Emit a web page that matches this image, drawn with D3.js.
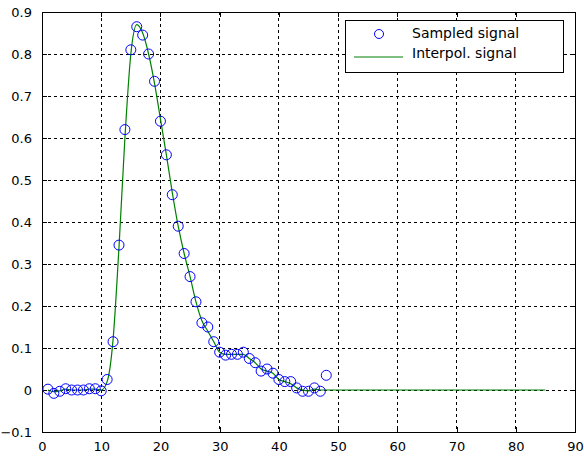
<!DOCTYPE html>
<meta charset="utf-8">
<script src="https://d3js.org/d3.v7.min.js"></script>
<style>
  body { margin: 0; background: #fff; }
  text { font-family: "DejaVu Sans", sans-serif; }
</style>
<div id="chart"></div>
<script>
// sampled signal (index 1..48)
const sampleY = [0.002, -0.008, -0.003, 0.003, 0.0, 0.0, 0.0, 0.003, 0.003, -0.002,
  0.025, 0.115, 0.345, 0.62, 0.81, 0.865, 0.845, 0.80, 0.735, 0.64,
  0.56, 0.465, 0.39, 0.325, 0.27, 0.21, 0.16, 0.15, 0.115, 0.09,
  0.083, 0.085, 0.085, 0.09, 0.075, 0.065, 0.045, 0.05, 0.04, 0.025,
  0.02, 0.02, 0.005, -0.003, -0.003, 0.005, -0.003, 0.035];
const sampleX = d3.range(1, sampleY.length + 1);

// interpolated signal
const interpX = [1, 2, 3, 4, 5, 6, 7, 8, 9, 10, 11, 12, 13, 14, 15, 16, 17, 18, 19, 20,
  21, 22, 23, 24, 25, 26, 27, 28, 29, 30, 31, 32, 33, 34, 35, 36, 37, 38, 39, 40,
  41, 42, 43, 44, 45, 46, 47, 48, 85];
const interpY = [0.0, -0.004, -0.002, 0.002, 0.0, 0.0, 0.0, 0.002, 0.002, 0.0,
  0.02, 0.12, 0.34, 0.60, 0.80, 0.87, 0.85, 0.80, 0.73, 0.645,
  0.56, 0.47, 0.39, 0.325, 0.27, 0.21, 0.165, 0.14, 0.115, 0.09,
  0.085, 0.085, 0.085, 0.085, 0.075, 0.065, 0.05, 0.045, 0.04, 0.025,
  0.02, 0.015, 0.005, 0.0, -0.002, 0.002, 0.0, 0.0, 0.0];

const xTicks = [0, 10, 20, 30, 40, 50, 60, 70, 80, 90];
const yTicks = [-0.1, 0, 0.1, 0.2, 0.3, 0.4, 0.5, 0.6, 0.7, 0.8, 0.9];
const legendLabels = ["Sampled signal", "Interpol. signal"];

const W = 584, H = 458;
const margin = {top: 12, right: 9, bottom: 26, left: 42};
const width = W - margin.left - margin.right,
      height = H - margin.top - margin.bottom;

const svg = d3.select("#chart").append("svg")
    .attr("width", W).attr("height", H);
const g = svg.append("g")
    .attr("transform", `translate(${margin.left},${margin.top})`);

const x = d3.scaleLinear().domain([0, 90]).range([0, width]);
const y = d3.scaleLinear().domain([-0.1, 0.9]).range([height, 0]);

// grid
g.append("g").selectAll("line")
  .data(xTicks.slice(1, -1)).join("line")
    .attr("x1", d => x(d)).attr("x2", d => x(d))
    .attr("y1", 0).attr("y2", height)
    .attr("stroke", "#000").attr("stroke-dasharray", "3,3")
    .attr("shape-rendering", "crispEdges");
g.append("g").selectAll("line")
  .data(yTicks.slice(1, -1)).join("line")
    .attr("y1", d => y(d)).attr("y2", d => y(d))
    .attr("x1", 0).attr("x2", width)
    .attr("stroke", "#000").attr("stroke-dasharray", "3,3")
    .attr("shape-rendering", "crispEdges");

// axes with inward ticks
const fmtY = d => d3.format("")(+d.toFixed(1));
const axB = g.append("g").attr("transform", `translate(0,${height})`)
  .call(d3.axisBottom(x).tickValues(xTicks).tickSize(-5).tickPadding(10));
const axL = g.append("g")
  .call(d3.axisLeft(y).tickValues(yTicks).tickSize(-5).tickPadding(10).tickFormat(fmtY));
const axT = g.append("g")
  .call(d3.axisTop(x).tickValues(xTicks).tickSize(-5).tickFormat(""));
const axR = g.append("g").attr("transform", `translate(${width},0)`)
  .call(d3.axisRight(y).tickValues(yTicks).tickSize(-5).tickFormat(""));
[axB, axL, axT, axR].forEach(a => {
  a.select(".domain").remove();
  a.selectAll("line").attr("shape-rendering", "crispEdges");
  a.selectAll("text").style("font-size", "13px").attr("fill", "#000");
});
g.append("rect").attr("width", width).attr("height", height)
  .attr("fill", "none").attr("stroke", "#000").attr("shape-rendering", "crispEdges");

// interpolated line
const lineData = interpX.map((d, i) => [d, interpY[i]]);
g.append("path")
  .datum(lineData)
  .attr("fill", "none").attr("stroke", "#008000").attr("stroke-width", 1.2)
  .attr("d", d3.line().x(d => x(d[0])).y(d => y(d[1])).curve(d3.curveMonotoneX));

// samples
g.append("g").selectAll("circle")
  .data(sampleX.map((d, i) => [d, sampleY[i]])).join("circle")
    .attr("cx", d => x(d[0])).attr("cy", d => y(d[1])).attr("r", 5)
    .attr("fill", "none").attr("stroke", "#0000ff").attr("stroke-width", 1);

// legend
const lg = svg.append("g").attr("transform", "translate(345,20)");
lg.append("rect").attr("width", 218).attr("height", 52)
  .attr("fill", "#fff").attr("stroke", "#000").attr("shape-rendering", "crispEdges");
lg.append("circle").attr("cx", 34).attr("cy", 14).attr("r", 4.5)
  .attr("fill", "none").attr("stroke", "#0000ff");
lg.append("line").attr("x1", 9).attr("x2", 58).attr("y1", 37).attr("y2", 37)
  .attr("stroke", "#008000").attr("stroke-width", 1.2);
lg.selectAll("text.lab").data(legendLabels).join("text")
  .attr("class", "lab")
  .attr("x", 67).attr("y", (d, i) => 18 + i * 20)
  .style("font-size", "14px").attr("fill", "#000")
  .text(d => d);
</script>
